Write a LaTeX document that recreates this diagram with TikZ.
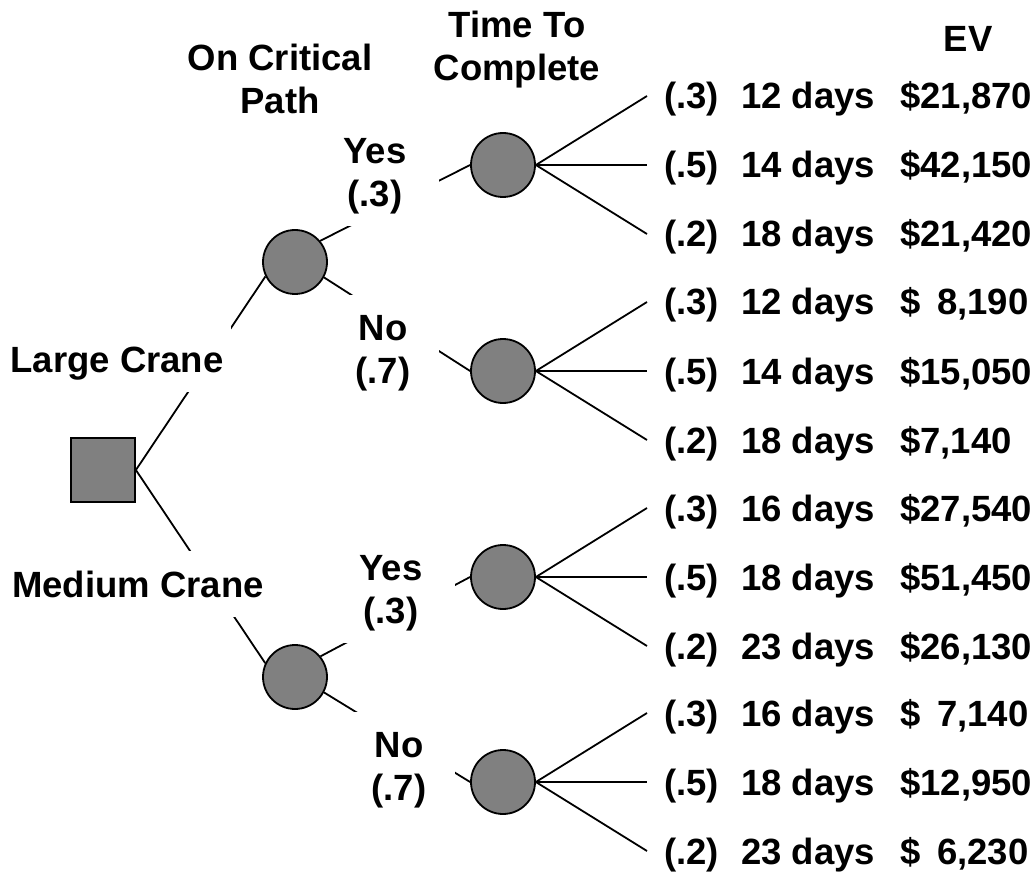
\documentclass[tikz,border=0pt]{standalone}
\usepackage{fontspec}
\setmainfont{Liberation Sans}
\usetikzlibrary{backgrounds}
\definecolor{nodegray}{HTML}{808080}
\newcommand\rowtext[3]{\makebox[77pt][l]{#1}\makebox[159pt][l]{#2}#3}
\newcommand\evgap{\hspace{0.46em}}
\begin{document}
\begin{tikzpicture}[x=1pt,y=-1pt,
  lbl/.style={font=\bfseries\fontsize{36.5}{43}\selectfont, inner sep=0pt},
  cutlbl/.style={lbl, fill=white, align=center, inner ysep=20pt},
  chance/.style={circle, draw, line width=1.8pt, fill=nodegray, minimum size=64pt, inner sep=0pt},
  decision/.style={rectangle, draw, line width=1.8pt, fill=nodegray, minimum size=64pt, inner sep=0pt},
  conn/.style={line width=1.8pt},
  outrow/.style={lbl, anchor=base west}]
\useasboundingbox (0,0) rectangle (1036,877);

% decision and chance nodes
\node[decision] (sq) at (103,470) {};
\node[chance] (c1) at (295,262) {};
\node[chance] (cm) at (295,677) {};
\node[chance] (c2) at (503,165) {};
\node[chance] (c3) at (503,371) {};
\node[chance] (c4) at (503,577) {};
\node[chance] (c5) at (503,782) {};

% headers
\node[lbl, align=center, anchor=north] (hcrit) at (280,44) {On Critical\\Path};
\node[lbl, align=center, anchor=north] (htime) at (517,11) {Time To\\Complete};
\node[lbl, anchor=base] (hev) at (968,52) {EV};

% branch labels (white boxes interrupt the connectors)
\node[cutlbl, text height=26pt, text depth=0pt, inner xsep=8pt, anchor=base] (llarge) at (117,372) {Large Crane};
\node[cutlbl, text height=26pt, text depth=0pt, inner xsep=8pt, anchor=base] (lmedium) at (138,597) {Medium Crane};
\node[cutlbl, inner ysep=12pt, minimum width=128pt, anchor=north] (lyes1) at (375,126) {Yes\\(.3)};
\node[cutlbl, minimum width=112pt, anchor=north] (lno1) at (383,295) {No\\(.7)};
\node[cutlbl, inner ysep=12pt, minimum width=128pt, anchor=north] (lyes2) at (391,543) {Yes\\(.3)};
\node[cutlbl, minimum width=112pt, anchor=north] (lno2) at (399,712) {No\\(.7)};

% outcome line ends
\coordinate (e1) at (647,96);   \coordinate (e2) at (647,165);  \coordinate (e3) at (647,234);
\coordinate (e4) at (647,302);  \coordinate (e5) at (647,371);  \coordinate (e6) at (647,440);
\coordinate (e7) at (647,508);  \coordinate (e8) at (647,577);  \coordinate (e9) at (647,646);
\coordinate (e10) at (647,713); \coordinate (e11) at (647,782); \coordinate (e12) at (647,851);

% outcome texts
\node[outrow] (o1) at (664,109) {\rowtext{(.3)}{12 days}{\$21,870}};
\node[outrow] (o2) at (664,178) {\rowtext{(.5)}{14 days}{\$42,150}};
\node[outrow] (o3) at (664,247) {\rowtext{(.2)}{18 days}{\$21,420}};
\node[outrow] (o4) at (664,315) {\rowtext{(.3)}{12 days}{\$\evgap 8,190}};
\node[outrow] (o5) at (664,384) {\rowtext{(.5)}{14 days}{\$15,050}};
\node[outrow] (o6) at (664,453) {\rowtext{(.2)}{18 days}{\$7,140}};
\node[outrow] (o7) at (664,521) {\rowtext{(.3)}{16 days}{\$27,540}};
\node[outrow] (o8) at (664,590) {\rowtext{(.5)}{18 days}{\$51,450}};
\node[outrow] (o9) at (664,659) {\rowtext{(.2)}{23 days}{\$26,130}};
\node[outrow] (o10) at (664,726) {\rowtext{(.3)}{16 days}{\$\evgap 7,140}};
\node[outrow] (o11) at (664,795) {\rowtext{(.5)}{18 days}{\$12,950}};
\node[outrow] (o12) at (664,864) {\rowtext{(.2)}{23 days}{\$\evgap 6,230}};

\begin{pgfonlayer}{background}
\draw[conn] (sq.east) -- (c1.206);
\draw[conn] (sq.east) -- (cm.155);
\draw[conn] (c1.40) -- (c2.west);
\draw[conn] (c1.-28) -- (c3.west);
\draw[conn] (cm.39) -- (c4.west);
\draw[conn] (cm.-28) -- (c5.west);
\draw[conn] (c2.east) -- (e1);
\draw[conn] (c2.east) -- (e2);
\draw[conn] (c2.east) -- (e3);
\draw[conn] (c3.east) -- (e4);
\draw[conn] (c3.east) -- (e5);
\draw[conn] (c3.east) -- (e6);
\draw[conn] (c4.east) -- (e7);
\draw[conn] (c4.east) -- (e8);
\draw[conn] (c4.east) -- (e9);
\draw[conn] (c5.east) -- (e10);
\draw[conn] (c5.east) -- (e11);
\draw[conn] (c5.east) -- (e12);
\end{pgfonlayer}
\end{tikzpicture}
\end{document}
